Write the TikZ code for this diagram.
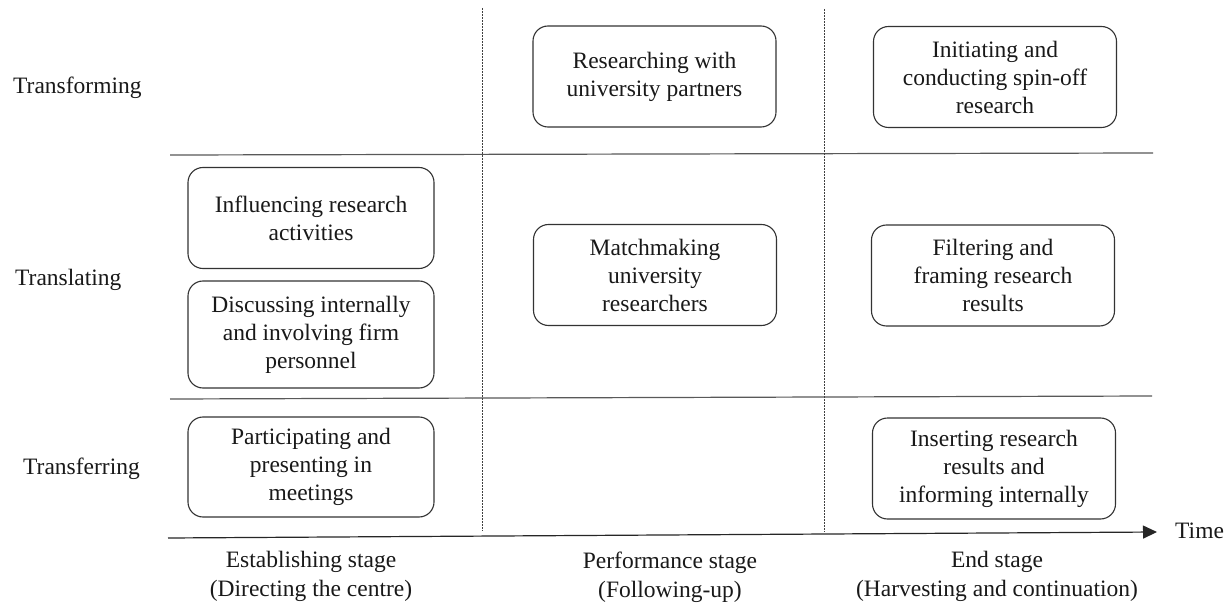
\documentclass[tikz,border=0pt]{standalone}
\usepackage{fontspec}
\setmainfont{Liberation Serif}
\usetikzlibrary{arrows.meta}
\begin{document}
\begin{tikzpicture}[x=1pt,y=-1pt,
  every node/.style={font=\fontsize{23.5}{28}\selectfont, text=black!90},
  actbox/.style={draw=black!80, line width=1.1pt, rounded corners=15pt,
    align=center, minimum width=243pt, minimum height=101pt, inner sep=0pt},
  sepline/.style={draw=black!65, line width=1.2pt},
  stagesep/.style={draw=black!75, line width=0.8pt, dash pattern=on 2pt off 1pt},
  timeaxis/.style={draw=black!85, line width=1.2pt, -{Triangle[length=14pt,width=13pt]}},
  rowlab/.style={anchor=base west, inner sep=0pt},
  stagelab/.style={align=center, anchor=north, inner sep=0pt}]
\useasboundingbox (0,0) rectangle (1232,604);
\fill[white] (0,0) rectangle (1232,604);

% separators and axis
\coordinate (h1l) at (170,155); \coordinate (h1r) at (1153,153);
\coordinate (h2l) at (170,399); \coordinate (h2r) at (1152,396);
\coordinate (axl) at (168,538); \coordinate (axr) at (1157,532);
\coordinate (v1t) at (482,8);   \coordinate (v1b) at (482,531);
\coordinate (v2t) at (824,9);   \coordinate (v2b) at (824,532);
\draw[sepline] (h1l) -- (h1r);
\draw[sepline] (h2l) -- (h2r);
\draw[stagesep] (v1t) -- (v1b);
\draw[stagesep] (v2t) -- (v2b);
\draw[timeaxis] (axl) -- (axr);
\node[anchor=base west, inner sep=0pt] (time) at (1175,538) {Time};

% row labels
\node[rowlab] (transforming) at (13,94) {Transforming};
\node[rowlab] (translating) at (15,285) {Translating};
\node[rowlab] (transferring) at (23,474) {Transferring};

% activity boxes
\node[actbox, minimum width=246pt, minimum height=101pt] (infl) at (311,218) {Influencing research\\activities};
\node[actbox, minimum width=246pt, minimum height=107pt] (disc) at (311,334.5) {Discussing internally\\and involving firm\\personnel};
\node[actbox, minimum width=246pt, minimum height=100pt] (part) at (311,467) {Participating and\\presenting in\\meetings};
\node[actbox] (rese) at (654.5,76.5) {Researching with\\university partners};
\node[actbox] (match) at (655,275) {Matchmaking\\university\\researchers};
\node[actbox] (init) at (995,77) {Initiating and\\conducting spin-off\\research};
\node[actbox] (filt) at (993,275.5) {Filtering and\\framing research\\results};
\node[actbox] (ins) at (994,468.5) {Inserting research\\results and\\informing internally};

% stage labels
\node[stagelab] (est) at (311,551) {Establishing stage\\[1pt](Directing the centre)};
\node[stagelab] (perf) at (670,552) {Performance stage\\[1pt](Following-up)};
\node[stagelab] (endst) at (997,551) {End stage\\[1pt](Harvesting and continuation)};
\end{tikzpicture}
\end{document}
